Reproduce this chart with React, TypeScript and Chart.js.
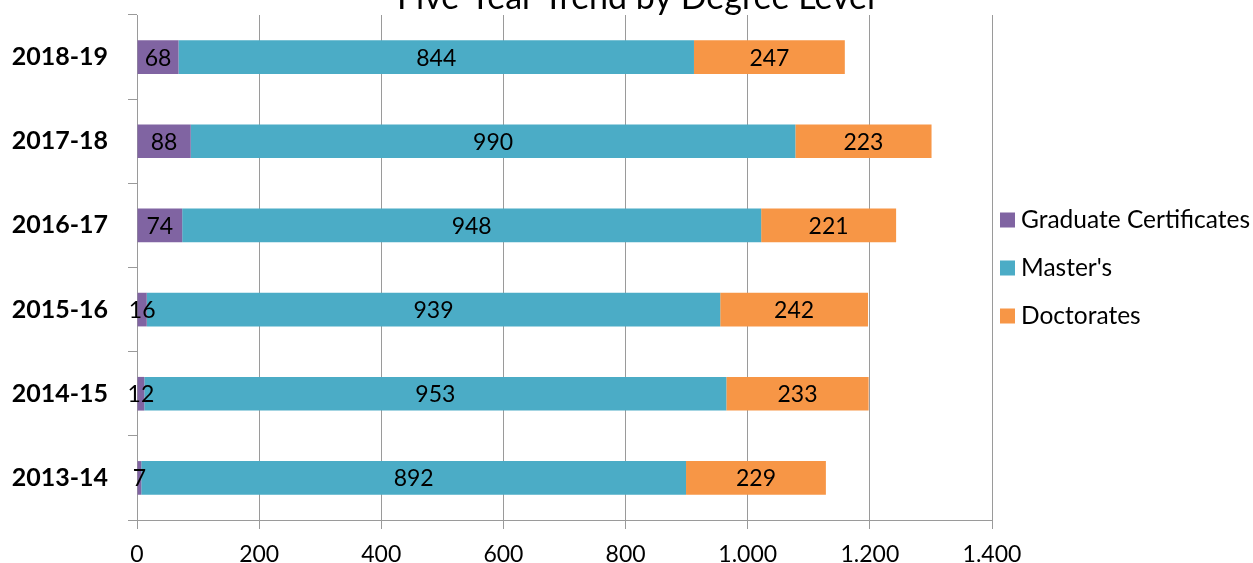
import React, { useEffect, useRef } from "react";
import { Chart, registerables } from "chart.js";

Chart.register(...registerables);

const TITLE = "Five-Year Trend by Degree Level";
const categories = ["2018-19", "2017-18", "2016-17", "2015-16", "2014-15", "2013-14"];
const seriesNames = ["Graduate Certificates", "Master's", "Doctorates"];
const gradCertificates = [68, 88, 74, 16, 12, 7];
const masters = [844, 990, 948, 939, 953, 892];
const doctorates = [247, 223, 221, 242, 233, 229];
const seriesColors = ["#8064A2", "#4BACC6", "#F79646"];
const xTickValues = [0, 200, 400, 600, 800, 1000, 1200, 1400];

const FONT = "Lato, 'Open Sans', sans-serif";
const GRID = "#9a9a9a";

const fmt = (v: number) => String(v).replace(/\B(?=(\d{3})+(?!\d))/g, ".");

const titlePlugin = {
  id: "cutTitle",
  afterDraw(chart: any) {
    const ctx = chart.ctx;
    ctx.save();
    ctx.font = `34px ${FONT}`;
    ctx.fillStyle = "#000";
    ctx.textAlign = "center";
    ctx.textBaseline = "alphabetic";
    ctx.fillText(TITLE, 636, 9);
    ctx.restore();
  },
};

const labelPlugin = {
  id: "segLabels",
  afterDatasetsDraw(chart: any) {
    const ctx = chart.ctx;
    ctx.save();
    ctx.font = `23px ${FONT}`;
    ctx.fillStyle = "#000";
    ctx.textAlign = "center";
    ctx.textBaseline = "middle";
    chart.data.datasets.forEach((ds: any, di: number) => {
      const meta = chart.getDatasetMeta(di);
      meta.data.forEach((el: any, i: number) => {
        const cx = (el.x + el.base) / 2;
        ctx.fillText(String(ds.data[i]), cx, el.y + 1);
      });
    });
    ctx.restore();
  },
};

const legendPlugin = {
  id: "sideLegend",
  afterDraw(chart: any) {
    const ctx = chart.ctx;
    const area = chart.chartArea;
    const mid = (area.top + area.bottom) / 2;
    ctx.save();
    ctx.font = `24.5px ${FONT}`;
    ctx.textAlign = "left";
    ctx.textBaseline = "middle";
    seriesNames.forEach((name, i) => {
      const y = mid + (i - 1) * 48;
      const x = area.right + 8;
      ctx.fillStyle = seriesColors[i];
      ctx.fillRect(x, y - 7, 15, 15);
      ctx.fillStyle = "#000";
      ctx.fillText(name, x + 21, y + 1);
    });
    ctx.restore();
  },
};

export default function App() {
  const ref = useRef<HTMLCanvasElement | null>(null);
  useEffect(() => {
    if (!ref.current) return;
    Chart.defaults.font.family = FONT;
    const chart = new Chart(ref.current, {
      type: "bar",
      data: {
        labels: categories,
        datasets: [gradCertificates, masters, doctorates].map((d, i) => ({
          label: seriesNames[i],
          data: d,
          backgroundColor: seriesColors[i],
          borderWidth: 0,
          categoryPercentage: 1,
          barPercentage: 0.4,
        })),
      },
      options: {
        indexAxis: "y",
        responsive: false,
        animation: false,
        layout: { padding: { top: 15, right: 261, left: 0, bottom: 0 } },
        plugins: {
          legend: { display: false },
          title: { display: false },
          tooltip: { enabled: false },
        },
        scales: {
          x: {
            type: "linear",
            stacked: true,
            min: 0,
            max: 1400,
            afterBuildTicks: (scale: any) => {
              scale.ticks = xTickValues.map((v) => ({ value: v }));
            },
            afterFit: (scale: any) => {
              scale.height = 43;
              scale.paddingLeft = 0;
              scale.paddingRight = 0;
            },
            ticks: {
              color: "#000",
              font: { size: 23, family: FONT },
              padding: 12,
              callback: (v: any) => fmt(Number(v)),
            },
            grid: { color: GRID, tickLength: 9, drawTicks: true, lineWidth: 1 },
            border: { color: GRID, width: 1 },
          },
          y: {
            stacked: true,
            afterFit: (scale: any) => {
              scale.width = 137;
              scale.paddingTop = 0;
              scale.paddingBottom = 0;
            },
            ticks: {
              color: "#000",
              font: { size: 25, weight: "bold", family: FONT },
              padding: 20,
            },
            grid: { drawOnChartArea: false, drawTicks: true, tickLength: 9, color: GRID, offset: true },
            border: { color: GRID, width: 1 },
          },
        },
      },
      plugins: [labelPlugin, legendPlugin, titlePlugin],
    } as any);
    return () => chart.destroy();
  }, []);
  return (
    <div style={{ position: "absolute", left: 0, top: 0, width: 1253, height: 563 }}>
      <canvas ref={ref} width={1253} height={563} style={{ display: "block" }} />
    </div>
  );
}
